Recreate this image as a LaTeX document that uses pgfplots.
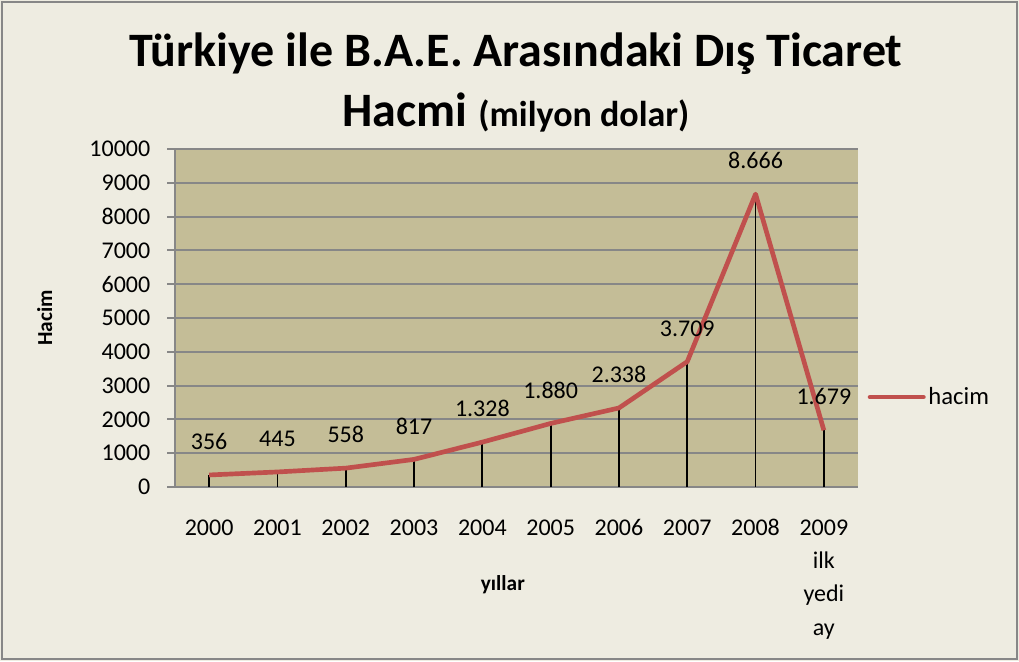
\documentclass[border=0pt]{standalone}
\usepackage{pgfplots}
\pgfplotsset{compat=1.18}
\usepackage{fontspec}
\setmainfont{Carlito}
\definecolor{bgc}{HTML}{EEECE1}
\definecolor{plotbg}{HTML}{C4BD97}
\definecolor{gridc}{HTML}{878787}
\definecolor{linec}{HTML}{C0504D}
\begin{document}
\begin{tikzpicture}
\fill[bgc] (0pt,0pt) rectangle (764.25pt,495.75pt);
\draw[gridc,line width=1.5pt] (1.5pt,1.5pt) rectangle (762.75pt,494.25pt);
\node[font=\fontsize{36}{40}\selectfont\bfseries] at (387pt,455.5pt) {Türkiye ile B.A.E. Arasındaki Dış Ticaret};
\node[font=\fontsize{36}{40}\selectfont\bfseries] at (387pt,411.5pt) {Hacmi {\fontsize{27}{30}\selectfont(milyon dolar)}};
\begin{axis}[
  at={(131.25pt,130.5pt)}, anchor=south west,
  scale only axis, width=512.25pt, height=253.5pt,
  xmin=-0.5, xmax=9.5, ymin=0, ymax=10000,
  scaled y ticks=false,
  axis background/.style={fill=plotbg},
  axis x line*=bottom, axis y line*=left,
  axis line style={gridc, line width=1.4pt, -},
  ytick={0,1000,...,10000},
  ymajorgrids, grid style={gridc, line width=1.4pt},
  tick style={gridc, line width=1.4pt},
  ytick pos=left, tick align=outside, major tick length=6pt,
  xtick={0,...,9}, xtick style={draw=none},
  xticklabels={{\strut 2000},{\strut 2001},{\strut 2002},{\strut 2003},{\strut 2004},{\strut 2005},{\strut 2006},{\strut 2007},{\strut 2008},{\strut 2009\\ilk\\yedi\\ay}},
  xticklabel style={align=center, font=\fontsize{18}{25}\selectfont, yshift=-9pt},
  yticklabel style={font=\fontsize{18}{20}\selectfont, xshift=-9pt},
  /pgf/number format/assume math mode=true,
  /pgf/number format/1000 sep={},
  ylabel={\textbf{Hacim}}, ylabel style={font=\fontsize{16}{18}\selectfont, at={(ticklabel cs:0.5)}, yshift=21pt},
  xlabel={\textbf{yıllar}}, xlabel style={font=\fontsize{16}{18}\selectfont, at={(0.48,0)}, anchor=center, yshift=-73pt},
  clip=false,
  legend style={at={(1.008,0.266)}, anchor=west, draw=none, fill=none, font=\fontsize{18.5}{20}\selectfont, legend cell align=left},
  legend image code/.code={\draw[linec, line width=3.5pt, line cap=round] (0pt,0pt) -- (40pt,0pt);},
]
\addplot[black, line width=1.4pt, ycomb, forget plot] coordinates {
(0,356) (1,445) (2,558) (3,817) (4,1328) (5,1880) (6,2338) (7,3709) (8,8666) (9,1679)};
\addplot[linec, line width=3.5pt, line join=round] coordinates {
(0,356) (1,445) (2,558) (3,817) (4,1328) (5,1880) (6,2338) (7,3709) (8,8666) (9,1679)};
\addlegendentry{hacim}
\addplot[draw=none, forget plot, nodes near coords, point meta=explicit symbolic,
  nodes near coords style={anchor=center, yshift=25pt, font=\fontsize{18}{20}\selectfont}]
  coordinates {
(0,356) [356] (1,445) [445] (2,558) [558] (3,817) [817] (4,1328) [1.328] (5,1880) [1.880] (6,2338) [2.338] (7,3709) [3.709] (8,8666) [8.666] (9,1679) [1.679]};
\end{axis}
\end{tikzpicture}
\end{document}
